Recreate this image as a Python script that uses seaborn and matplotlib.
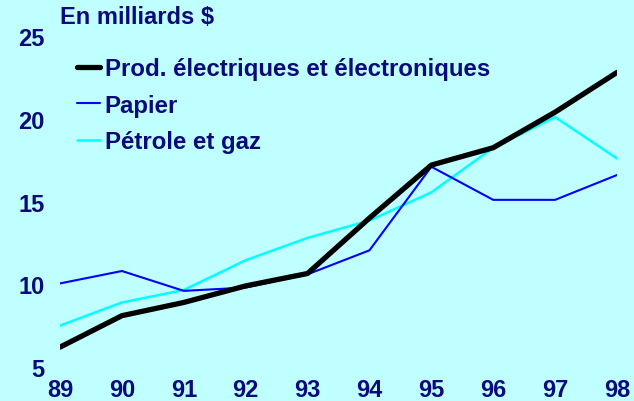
import matplotlib
matplotlib.use("Agg")
import matplotlib.pyplot as plt
import seaborn as sns
import pandas as pd

years = [89, 90, 91, 92, 93, 94, 95, 96, 97, 98]
year_labels = ["89", "90", "91", "92", "93", "94", "95", "96", "97", "98"]
elec = [6.2, 8.1, 8.9, 9.9, 10.65, 14.0, 17.2, 18.25, 20.4, 22.8]
papier = [10.05, 10.8, 9.6, 9.8, 10.6, 12.05, 17.1, 15.1, 15.1, 16.6]
petrole = [7.5, 8.9, 9.65, 11.45, 12.8, 13.85, 15.55, 18.25, 20.1, 17.6]
series_names = ["Prod. électriques et électroniques", "Papier", "Pétrole et gaz"]
y_ticks = [5, 10, 15, 20, 25]

bg = "#BFFFFF"
navy = "#0A0A78"

sns.set_theme(style="white")
plt.rcParams['font.family'] = ['Liberation Sans', 'DejaVu Sans']
plt.rcParams['font.weight'] = 'bold'

fig = plt.figure(figsize=(6.34, 4.02), dpi=100, facecolor=bg)
ax = fig.add_axes([60/634, 34/402, 557/634, 331/402])
ax.set_facecolor(bg)

styles = [("black", 3.8), ("#0000FF", 1.5), ("#00FFFF", 1.8)]

df = pd.DataFrame({"year": years * 3,
                   "value": elec + papier + petrole,
                   "series": [series_names[0]] * 10 + [series_names[1]] * 10 + [series_names[2]] * 10})

z = {series_names[0]: 3, series_names[1]: 2, series_names[2]: 1}
for name, (col, lw) in zip(series_names, styles):
    sub = df[df.series == name]
    sns.lineplot(data=sub, x="year", y="value", color=col, linewidth=lw,
                 ax=ax, label=name, zorder=z[name])

ax.set_xlim(89, 98)
ax.set_ylim(5, 25)
ax.set_xticks(years)
ax.set_xticklabels(year_labels)
ax.set_yticks(y_ticks)
ax.set_xlabel("")
ax.set_ylabel("")
for s in ax.spines.values():
    s.set_visible(False)
ax.tick_params(axis="both", length=0, labelsize=17, labelcolor=navy)
ax.tick_params(axis="x", pad=8)
ax.tick_params(axis="y", pad=11)
for lab in ax.get_xticklabels() + ax.get_yticklabels():
    lab.set_fontweight("bold")
ax.grid(False)

leg = ax.legend(loc="upper left", bbox_to_anchor=(77/634, 1 - 58/402),
                bbox_transform=fig.transFigure, frameon=False,
                fontsize=17.3, handlelength=0.95, handletextpad=0.2,
                labelspacing=0.57, borderpad=0, borderaxespad=0)
for t in leg.get_texts():
    t.set_color(navy)
    t.set_fontweight("bold")

fig.text(60/634, 1 - 18/402, "En milliards $", color=navy, fontsize=17,
         fontweight="bold", ha="left", va="center")

fig.savefig("out.png", dpi=100, facecolor=bg)
